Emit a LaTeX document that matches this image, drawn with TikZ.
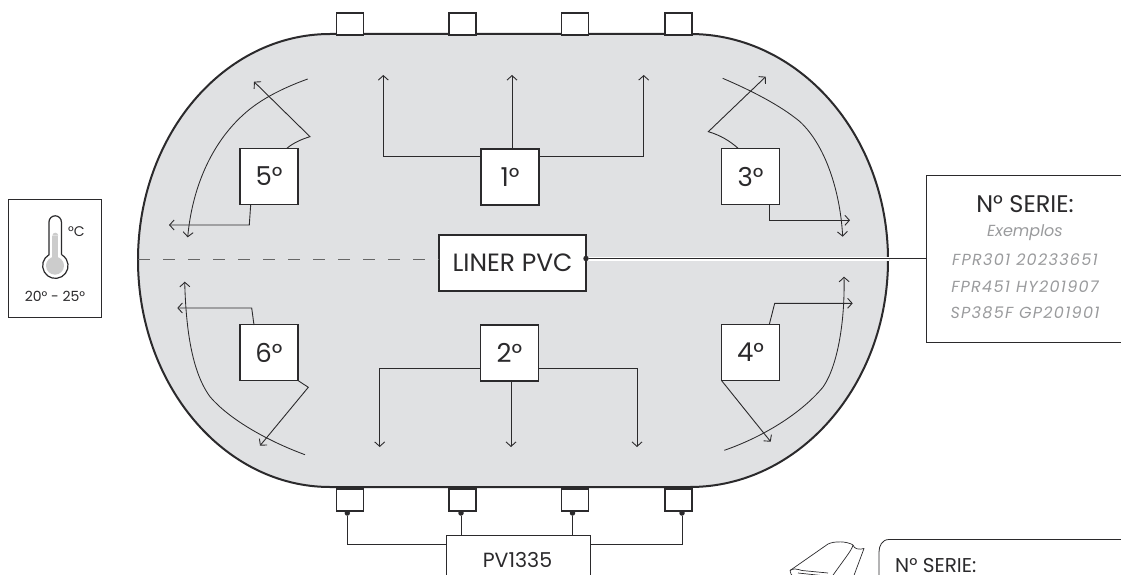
\documentclass[tikz,border=0pt]{standalone}
\usepackage{fontspec}
\setmainfont{Poppins}
\usetikzlibrary{arrows.meta}
\definecolor{ink}{HTML}{2B2A2C}
\definecolor{bodyfill}{HTML}{E0E1E3}
\definecolor{soft}{HTML}{9A9B9D}
\newcommand{\lowtext}[1]{\raisebox{-2.5pt}{#1}}
\tikzset{
  x=1pt,y=-1pt,
  port/.style={draw=ink,line width=1.8pt,fill=white,minimum width=27pt,minimum height=22pt,inner sep=0pt,anchor=north west},
  stagebox/.style={draw=ink,line width=1.1pt,fill=white,minimum width=58pt,minimum height=56pt,inner sep=0pt,text=ink,font=\fontsize{26}{28}\selectfont},
  flow/.style={draw=ink,line width=.9pt,-{Straight Barb[length=4.5pt,width=10pt,line width=.9pt]}},
  wire/.style={draw=ink,line width=.9pt},
  hdot/.style={circle,fill=ink,inner sep=0pt,minimum size=5.5pt},
  serial/.style={text=soft,font=\fontsize{16}{18}\selectfont\itshape\addfontfeatures{LetterSpace=8}},
}
\begin{document}
\begin{tikzpicture}
\useasboundingbox (0,0) rectangle (1121,575);
\clip (0,0) rectangle (1121,575);
% body
\draw[ink,line width=2pt,fill=bodyfill] (330,34) -- (690,34)
  .. controls (799,34) and (888,135) .. (888,260)
  .. controls (888,385) and (799,487) .. (690,487)
  -- (330,487)
  .. controls (224,487) and (138,385) .. (138,260)
  .. controls (138,135) and (224,34) .. (330,34) -- cycle;
% ports
\foreach \n/\x in {a/335.5,b/448,c/560.5,d/664}{
  \node[port] (t\n) at (\x,12) {};
  \node[port] (b\n) at (\x,488) {};
}
% stage boxes
\node[stagebox] (s1) at (510,177) {\lowtext{1°}};
\node[stagebox] (s2) at (509.5,353) {\lowtext{2°}};
\node[stagebox] (s3) at (750.5,176.5) {\lowtext{3°}};
\node[stagebox] (s4) at (750.5,352.5) {\lowtext{4°}};
\node[stagebox] (s5) at (269,176.5) {\lowtext{5°}};
\node[stagebox] (s6) at (269,352.5) {\lowtext{6°}};
% liner
\coordinate (dashL) at (138,259);
\coordinate (whiteR) at (889,259);
\node[draw=ink,line width=1.1pt,fill=white,minimum width=147pt,minimum height=56pt,inner sep=0pt,text=ink,font=\fontsize{25}{27}\selectfont] (liner) at (512.5,263) {\lowtext{LINER PVC}};
\draw[black!60,line width=1pt,dash pattern=on 12pt off 13pt] (dashL) -- (liner.west |- dashL);
\draw[white,line width=4pt] (liner.east |- whiteR) -- (whiteR);
% serial box
\draw[ink,line width=1pt,fill=white] (1125,175) -- (926,175) -- (926,342) -- (1125,342);
\coordinate (serialW) at (926,259);
\node[hdot] (ldot) at (586,258.5) {};
\draw[wire,line width=1pt] (ldot) -- (serialW |- ldot);
\node[text=ink,font=\fontsize{24}{26}\selectfont] (st) at (1025,204) {N° SERIE:};
\node[text=soft,font=\fontsize{16}{18}\selectfont\itshape] (ex) at (1025,233) {Exemplos};
\node[serial] (f1) at (1025,260) {FPR301 20233651};
\node[serial] (f2) at (1025,287) {FPR451 HY201907};
\node[serial] (f3) at (1025,313) {SP385F GP201901};
% stage 1
\coordinate (e1a) at (383.3,75);\coordinate (e1b) at (512,75);\coordinate (e1c) at (643.7,75);
\draw[flow] (s1.west |- 0,156) -| (e1a);
\draw[flow] (512,148.5) -- (e1b);
\draw[flow] (s1.east |- 0,156) -| (e1c);
% stage 2
\coordinate (e2a) at (379.7,447);\coordinate (e2b) at (511,447);\coordinate (e2c) at (637,447);
\draw[flow] (s2.west |- 0,368) -| (e2a);
\draw[flow] (511,381) -- (e2b);
\draw[flow] (s2.east |- 0,368) -| (e2c);
% stage 5
\draw[flow] (286.7,148.5) .. controls (293,143) and (302,139) .. (310,136.7) -- (254,81.7);
\draw[flow] (250.7,204.5) -- (249.3,225) -- (169,225);
\draw[flow,line width=.85pt] (307.7,79) .. controls (280,89) and (258,101) .. (243,115)
  .. controls (210,145) and (192,190) .. (187.7,237.3);
% stage 6
\draw[flow] (254,325) -- (251.7,308) -- (177.3,308);
\draw[flow] (298,380.5) -- (308.3,387.3) -- (260,445.7);
\draw[flow,line width=.85pt] (305,454.7) .. controls (265,440) and (228,418) .. (210,396.7)
  .. controls (192,372) and (186,330) .. (184.7,281.7);
% stage 3
\draw[flow] (738.3,148.5) .. controls (730,141) and (720,135) .. (708.3,131.7) -- (765.7,76.7);
\draw[flow] (769,204.5) -- (769,220.3) -- (850,220.3);
\draw[flow,line width=.85pt] (722.7,78.3) .. controls (750,90) and (780,105) .. (800,121.7)
  .. controls (825,145) and (840,190) .. (842.7,236.7);
% stage 4
\draw[flow] (769.3,324.5) -- (774.7,303.3) -- (852.7,303.3);
\draw[flow] (721.5,380.5) -- (770.7,441.7);
\draw[flow,line width=.85pt] (724.3,450.3) .. controls (760,438) and (800,415) .. (823.3,386.7)
  .. controls (838,365) and (845,320) .. (844,276.7);
% PV
\node[draw=ink,line width=.8pt,fill=white,minimum width=144.5pt,minimum height=60pt,inner sep=0pt,anchor=north west] (pv) at (445.7,535) {};
\node[text=ink,font=\fontsize{20.5}{23}\selectfont] (pvt) at (517.5,560) {PV1335};
\node[hdot] (da) at (347.3,513) {};
\node[hdot] (db) at (461,513) {};
\node[hdot] (dc) at (572.5,513) {};
\node[hdot] (dd) at (682,513) {};
\draw[wire] (da) |- (pv.west |- 0,544);
\draw[wire] (db) -- (db |- pv.north);
\draw[wire] (dc) -- (dc |- pv.north);
\draw[wire] (dd) |- (pv.east |- 0,544);
% thermometer
\draw[ink,line width=.9pt,fill=white] (8.5,199) rectangle (101.5,317);
\fill[black!20] (55,265.7) circle (9);
\fill[black!20] (52.3,235.7) rectangle (58.3,262);
\fill[black!20] (52.3,235.7) arc (180:360:3);
\draw[ink,line width=1.2pt] (61.4,254.7) -- (61.4,222) arc (360:180:6.2) -- (49,254.7) arc (240:-60:12.7);
\node[text=ink,font=\fontsize{14}{16}\selectfont] (tc) at (76.5,232) {°C};
\node[text=ink,font=\fontsize{14}{16}\selectfont] (tr) at (55,296) {20° - 25°};
% roll + bottom box
\draw[ink,line width=.8pt,fill=white] (1125,539.5) -- (889,539.5) .. controls (882,539.5) and (879,546) .. (879,552) -- (879,580);
\node[text=ink,anchor=base west,inner sep=0pt,font=\fontsize{20}{22}\selectfont] (ns) at (895,572) {N° SERIE:};
% roll icon
\draw[ink,line width=.7pt,line join=round] (790,570.5) -- (828,544) .. controls (834,541) and (847,541) .. (853,545)
  .. controls (854,549) and (859,550) .. (864,548.5) -- (853,578);
\draw[ink,line width=.7pt] (853,545) .. controls (852,550) and (845,558) .. (831,578);
\draw[ink,line width=.7pt] (790,570.5) .. controls (793,568) and (797,569) .. (802,570.5) -- (828,573);
\draw[ink,line width=.7pt] (790,570.5) -- (791,574) -- (794,578);
\draw[ink,line width=.7pt] (798,573) -- (826,576);
\end{tikzpicture}
\end{document}
